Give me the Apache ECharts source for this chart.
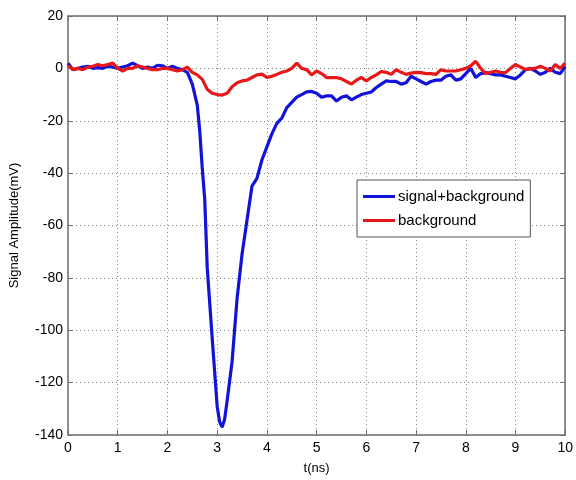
<!DOCTYPE html>
<html><head><meta charset="utf-8">
<script src="https://cdn.jsdelivr.net/npm/echarts@6/dist/echarts.min.js"></script>
<style>html,body{margin:0;padding:0;background:#fff}#c{width:576px;height:480px}</style>
</head><body><div id="c"></div>
<script>
const blueT = [0,0.1,0.2,0.3,0.4,0.5,0.6,0.7,0.8,0.9,1.0,1.1,1.2,1.3,1.4,1.5,1.6,1.7,1.8,1.9,2.0,2.1,2.2,2.3,2.4,2.5,2.6,2.65,2.7,2.75,2.8,2.9,3.0,3.05,3.1,3.15,3.2,3.3,3.4,3.5,3.6,3.7,3.8,3.9,4.0,4.1,4.2,4.3,4.4,4.5,4.6,4.7,4.8,4.9,5.0,5.1,5.2,5.3,5.4,5.5,5.6,5.7,5.8,5.9,6.0,6.1,6.2,6.3,6.4,6.5,6.6,6.7,6.8,6.9,7.0,7.1,7.2,7.3,7.4,7.5,7.6,7.7,7.8,7.9,8.0,8.1,8.2,8.3,8.4,8.5,8.6,8.7,8.8,8.9,9.0,9.1,9.2,9.3,9.4,9.5,9.6,9.7,9.8,9.9,10];
const blueV = [2,-0.5,0,0.5,0.8,0,0.3,0,0.8,0.5,0,0.5,1,2,1,0,0.5,0,1.2,1,0,0.8,0,-0.5,-1.5,-6,-14,-24,-38,-50,-76,-103,-129,-135,-137,-134,-127,-112,-88,-71,-58,-45,-42,-35,-30,-25,-21,-19,-15,-13,-11,-10,-9,-8.8,-9.5,-11,-10.5,-10.5,-12.5,-11,-10.5,-12,-11,-10,-9.5,-9,-7.3,-6,-4.8,-5,-5,-6,-5.5,-3,-4,-5,-6,-5,-4.5,-4.5,-3,-2.5,-4.5,-4,-2,0,-3.5,-2,-1.6,-2,-2.5,-2.5,-3,-3.5,-4,-2.5,-0.5,0,-1,-2.3,-1.5,0,-1.5,-2,0.8];
const redT = [0,0.1,0.2,0.3,0.4,0.5,0.6,0.7,0.8,0.9,1.0,1.1,1.2,1.3,1.4,1.5,1.6,1.7,1.8,1.9,2.0,2.1,2.2,2.3,2.4,2.5,2.6,2.7,2.8,2.9,3.0,3.1,3.2,3.3,3.4,3.5,3.6,3.7,3.8,3.9,4.0,4.1,4.2,4.3,4.4,4.5,4.6,4.7,4.8,4.9,5.0,5.1,5.2,5.3,5.4,5.5,5.6,5.7,5.8,5.9,6.0,6.1,6.2,6.3,6.4,6.5,6.6,6.7,6.8,6.9,7.0,7.1,7.2,7.3,7.4,7.5,7.6,7.7,7.8,7.9,8.0,8.1,8.2,8.3,8.4,8.5,8.6,8.7,8.8,8.9,9.0,9.1,9.2,9.3,9.4,9.5,9.6,9.7,9.8,9.9,10];
const redV = [1,-0.4,0,-0.5,0.5,0.8,1.5,1,1.5,2,0,-1,0,0,1,0.5,0,-0.5,-0.5,0,0,-0.5,-1,-0.5,0.5,-1.5,-2.5,-4.2,-8,-9.5,-10,-10.2,-9.5,-7,-5.5,-4.8,-4.5,-3.5,-2.5,-2.2,-3.5,-3,-2.3,-1.5,-1,0,2,0,-0.5,-2.5,-1,-2,-3.5,-3.5,-3.5,-4,-5,-6,-4.5,-3.5,-4.8,-3.5,-2.5,-1.2,-1.5,-2.3,-0.5,-1.5,-2.3,-1.8,-1.5,-1.6,-2,-2,-2.3,-0.5,-1,-1,-1,-0.5,0,1,2.7,0,-2,-1.5,-1,-1.5,-1.6,0,1.5,0.5,-0.4,-0.2,0,0.8,0,-1,1.5,0,2];
const xTicks = [0,1,2,3,4,5,6,7,8,9,10];
const yTicks = [-140,-120,-100,-80,-60,-40,-20,0,20];
const seriesNames = ['signal+background','background'];

const pair = (t, v) => t.map((x, i) => [x, v[i]]);
const font = 'Liberation Sans, Arial, sans-serif';
const boxColor = '#6e6e6e';
const gridLine = {show: true, lineStyle: {type: [1, 3], color: '#8a8a8a', width: 1}};

const chart = echarts.init(document.getElementById('c'), null, {renderer: 'canvas'});
chart.setOption({
  animation: false,
  backgroundColor: '#fff',
  grid: {left: 64, right: 8, top: 16, bottom: 41, containLabel: false},
  legend: {
    data: seriesNames,
    orient: 'vertical', left: 357, top: 180,
    padding: [9, 6, 9, 6],
    itemGap: 9,
    backgroundColor: '#fff', borderColor: '#555', borderWidth: 1, borderRadius: 0,
    icon: 'rect', itemWidth: 32, itemHeight: 3,
    textStyle: {fontFamily: font, fontSize: 15, color: '#000', padding: [0, 0, 0, -2]}
  },
  xAxis: [{
    type: 'value', min: xTicks[0], max: xTicks[xTicks.length - 1], interval: 1, position: 'bottom',
    name: 't(ns)', nameLocation: 'middle', nameGap: 27,
    nameTextStyle: {fontFamily: font, fontSize: 13, color: '#000'},
    axisLine: {show: true, onZero: false, lineStyle: {color: boxColor, width: 1.5}},
    axisTick: {show: true, inside: true, length: 5, lineStyle: {color: boxColor}},
    axisLabel: {fontFamily: font, fontSize: 14, color: '#000', margin: 6},
    splitLine: gridLine
  }, {
    type: 'value', min: 0, max: 10, interval: 1, position: 'top',
    axisLine: {show: true, onZero: false, lineStyle: {color: boxColor, width: 1.5}},
    axisTick: {show: true, inside: true, length: 5, lineStyle: {color: boxColor}},
    axisLabel: {show: false}, splitLine: {show: false}
  }],
  yAxis: [{
    type: 'value', min: yTicks[0], max: yTicks[yTicks.length - 1], interval: 20, position: 'left',
    name: 'Signal Amplitude(mV)', nameLocation: 'middle', nameGap: 47,
    nameTextStyle: {fontFamily: font, fontSize: 13, color: '#000'},
    axisLine: {show: true, onZero: false, lineStyle: {color: boxColor, width: 1.5}},
    axisTick: {show: true, inside: true, length: 5, lineStyle: {color: boxColor}},
    axisLabel: {fontFamily: font, fontSize: 14, color: '#000', margin: 5},
    splitLine: gridLine
  }, {
    type: 'value', min: -140, max: 20, interval: 20, position: 'right',
    axisLine: {show: true, onZero: false, lineStyle: {color: boxColor, width: 1.5}},
    axisTick: {show: true, inside: true, length: 5, lineStyle: {color: boxColor}},
    axisLabel: {show: false}, splitLine: {show: false}
  }],
  series: [{
    name: seriesNames[0], type: 'line', data: pair(blueT, blueV),
    showSymbol: false, symbol: 'none', smooth: false,
    lineStyle: {color: '#1212d8', width: 3.2}, itemStyle: {color: '#1212d8'}, z: 3
  }, {
    name: seriesNames[1], type: 'line', data: pair(redT, redV),
    showSymbol: false, symbol: 'none', smooth: false,
    lineStyle: {color: '#e81818', width: 3.2}, itemStyle: {color: '#e81818'}, z: 4
  }]
});
</script></body></html>
